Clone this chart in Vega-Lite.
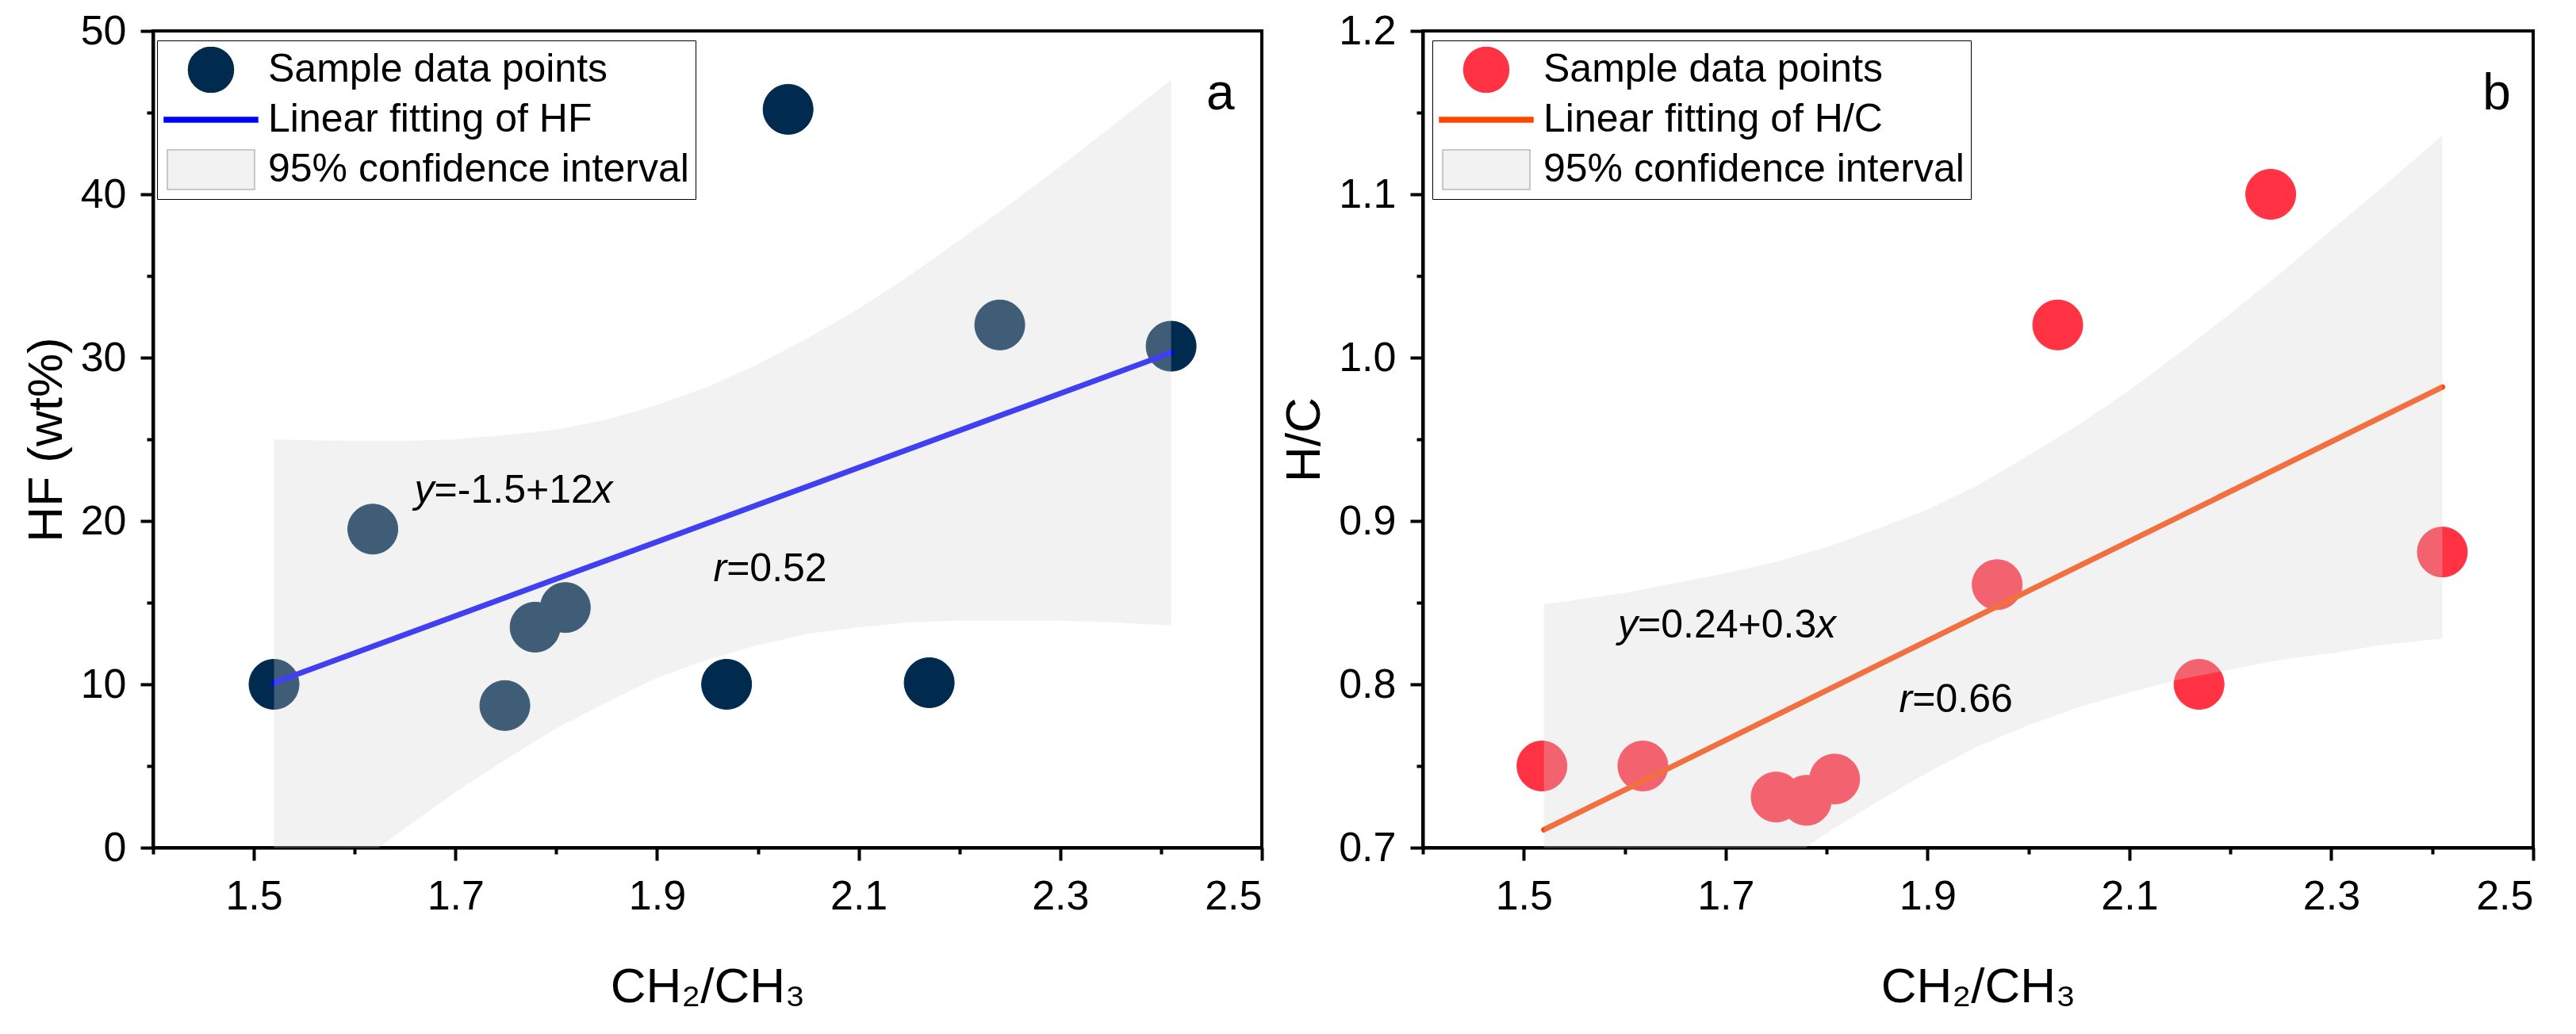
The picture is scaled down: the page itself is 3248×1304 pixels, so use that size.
{
  "$schema": "https://vega.github.io/schema/vega-lite/v6.json",
  "padding": {"left": 25, "top": 11, "right": 5, "bottom": 5},
  "background": "white",
  "datasets": {
    "ptsA": [
      {"x": 1.52, "y": 10.0, "s": "Sample data points"},
      {"x": 1.618, "y": 19.5, "s": "Sample data points"},
      {"x": 1.749, "y": 8.7, "s": "Sample data points"},
      {"x": 1.779, "y": 13.5, "s": "Sample data points"},
      {"x": 1.809, "y": 14.7, "s": "Sample data points"},
      {"x": 1.969, "y": 10.0, "s": "Sample data points"},
      {"x": 2.03, "y": 45.2, "s": "Sample data points"},
      {"x": 2.17, "y": 10.1, "s": "Sample data points"},
      {"x": 2.24, "y": 32.0, "s": "Sample data points"},
      {"x": 2.41, "y": 30.7, "s": "Sample data points"}
    ],
    "fitA": [
      {"x": 1.52, "y": 10.1},
      {"x": 2.41, "y": 30.3}
    ],
    "bandA": [
      {"x": 1.52, "y": 25.0, "lo": -4.8},
      {"x": 1.55, "y": 24.95, "lo": -3.4},
      {"x": 1.6, "y": 24.9, "lo": -1.1},
      {"x": 1.65, "y": 24.9, "lo": 1.2},
      {"x": 1.7, "y": 25.0, "lo": 3.4},
      {"x": 1.75, "y": 25.25, "lo": 5.4},
      {"x": 1.8, "y": 25.6, "lo": 7.3},
      {"x": 1.85, "y": 26.2, "lo": 8.9},
      {"x": 1.9, "y": 27.1, "lo": 10.4},
      {"x": 1.95, "y": 28.2, "lo": 11.5},
      {"x": 2.0, "y": 29.6, "lo": 12.4},
      {"x": 2.05, "y": 31.2, "lo": 13.1},
      {"x": 2.1, "y": 33.0, "lo": 13.5},
      {"x": 2.15, "y": 35.0, "lo": 13.8},
      {"x": 2.2, "y": 37.2, "lo": 13.9},
      {"x": 2.25, "y": 39.4, "lo": 13.9},
      {"x": 2.3, "y": 41.7, "lo": 13.9},
      {"x": 2.35, "y": 44.1, "lo": 13.8},
      {"x": 2.41, "y": 47.0, "lo": 13.6}
    ],
    "ptsB": [
      {"x": 1.518, "y": 0.75, "s": "Sample data points"},
      {"x": 1.618, "y": 0.75, "s": "Sample data points"},
      {"x": 1.75, "y": 0.731, "s": "Sample data points"},
      {"x": 1.78, "y": 0.729, "s": "Sample data points"},
      {"x": 1.808, "y": 0.742, "s": "Sample data points"},
      {"x": 1.969, "y": 0.861, "s": "Sample data points"},
      {"x": 2.029, "y": 1.02, "s": "Sample data points"},
      {"x": 2.169, "y": 0.8, "s": "Sample data points"},
      {"x": 2.24, "y": 1.1, "s": "Sample data points"},
      {"x": 2.41, "y": 0.881, "s": "Sample data points"}
    ],
    "fitB": [
      {"x": 1.52, "y": 0.711},
      {"x": 2.41, "y": 0.982}
    ],
    "bandB": [
      {"x": 1.52, "y": 0.849, "lo": 0.573},
      {"x": 1.55, "y": 0.8515, "lo": 0.589},
      {"x": 1.6, "y": 0.856, "lo": 0.615},
      {"x": 1.65, "y": 0.862, "lo": 0.64},
      {"x": 1.7, "y": 0.868, "lo": 0.664},
      {"x": 1.75, "y": 0.875, "lo": 0.687},
      {"x": 1.8, "y": 0.884, "lo": 0.709},
      {"x": 1.85, "y": 0.895, "lo": 0.728},
      {"x": 1.9, "y": 0.907, "lo": 0.746},
      {"x": 1.95, "y": 0.922, "lo": 0.762},
      {"x": 2.0, "y": 0.94, "lo": 0.775},
      {"x": 2.05, "y": 0.959, "lo": 0.786},
      {"x": 2.1, "y": 0.98, "lo": 0.795},
      {"x": 2.15, "y": 1.003, "lo": 0.803},
      {"x": 2.2, "y": 1.027, "lo": 0.809},
      {"x": 2.25, "y": 1.052, "lo": 0.815},
      {"x": 2.3, "y": 1.078, "lo": 0.819},
      {"x": 2.35, "y": 1.104, "lo": 0.824},
      {"x": 2.41, "y": 1.136, "lo": 0.828}
    ]
  },
  "hconcat": [
    {
      "width": 1398,
      "height": 1030,
      "encoding": {
        "x": {
          "field": "x", "type": "quantitative", "title": "CH₂/CH₃",
          "scale": {"domain": [1.4, 2.5], "nice": false, "zero": false},
          "axis": {
            "values": [1.4, 1.5, 1.6, 1.7, 1.8, 1.9, 2.0, 2.1, 2.2, 2.3, 2.4, 2.5],
            "labelExpr": "indexof(['1.5','1.7','1.9','2.1','2.3','2.5'], format(datum.value, '.1f')) >= 0 ? format(datum.value, '.1f') : ''",
            "tickSize": 16,
            "tickDash": {"condition": {"test": "indexof(['1.5','1.7','1.9','2.1','2.3','2.5'], format(datum.value, '.1f')) < 0", "value": [8, 40]}, "value": [40, 0]},
            "labelPadding": 20,
            "titlePadding": 58
          }
        },
        "y": {
          "field": "y", "type": "quantitative", "title": "HF (wt%)",
          "scale": {"domain": [0, 50], "nice": false},
          "axis": {
            "values": [0, 5, 10, 15, 20, 25, 30, 35, 40, 45, 50],
            "labelExpr": "datum.value % 10 === 0 ? datum.label : ''",
            "tickSize": 16,
            "tickDash": {"condition": {"test": "datum.value % 10 !== 0", "value": [8, 40]}, "value": [40, 0]},
            "labelPadding": 18,
            "titlePadding": 11
          }
        }
      },
      "layer": [
        {
          "data": {"name": "ptsA"},
          "mark": {"type": "point", "filled": true, "opacity": 1, "size": 17004, "strokeWidth": 1},
          "encoding": {
            "fill": {
              "field": "s", "type": "nominal",
              "scale": {"domain": ["Sample data points", "Linear fitting of HF", "95% confidence interval"], "range": ["#012a4f", "#0000ff", "#f2f2f2"]},
              "legend": {
                "title": null, "orient": "none", "legendX": 5, "legendY": 12,
                "strokeColor": "black", "padding": 8, "rowPadding": 5, "clipHeight": 58,
                "labelFontSize": 50, "labelFont": "Liberation Sans", "labelColor": "black", "labelLimit": 0, "labelOffset": 12,
                "symbolSize": 13924, "symbolStrokeWidth": 1.5
              }
            },
            "stroke": {
              "field": "s", "type": "nominal",
              "scale": {"domain": ["Sample data points", "Linear fitting of HF", "95% confidence interval"], "range": ["#012a4f", "#0000ff", "#b8b8b8"]}
            },
            "shape": {
              "field": "s", "type": "nominal",
              "scale": {"domain": ["Sample data points", "Linear fitting of HF", "95% confidence interval"], "range": ["M0.483,0A0.483,0.483,0,1,1,-0.483,0A0.483,0.483,0,1,1,0.483,0Z", "M-1,-0.05H1V0.05H-1Z", "M-0.932,-0.424H0.932V0.424H-0.932Z"]}
            }
          }
        },
        {
          "data": {"name": "fitA"},
          "mark": {"type": "line", "color": "#0000ff", "strokeWidth": 7, "strokeCap": "round"}
        },
        {
          "data": {"name": "bandA"},
          "mark": {"type": "area", "color": "#d4d4d4", "opacity": 0.3, "clip": true},
          "encoding": {"y2": {"field": "lo"}}
        },
        {
          "data": {"values": [{"x": 1.679, "y": 21.1, "t": "y"}, {"x": 1.969, "y": 16.3, "t": "r"}]},
          "mark": {"type": "text", "align": "right", "baseline": "alphabetic", "fontSize": 50, "fontStyle": "italic", "font": "Liberation Sans", "color": "black"},
          "encoding": {"text": {"field": "t"}}
        },
        {
          "data": {"values": [{"x": 1.679, "y": 21.1, "t": "=-1.5+12"}, {"x": 1.969, "y": 16.3, "t": "=0.52"}]},
          "mark": {"type": "text", "align": "left", "baseline": "alphabetic", "fontSize": 50, "font": "Liberation Sans", "color": "black"},
          "encoding": {"text": {"field": "t"}}
        },
        {
          "data": {"values": [{"x": 1.679, "y": 21.1, "t": "x"}]},
          "mark": {"type": "text", "align": "left", "baseline": "alphabetic", "dx": 200, "fontSize": 50, "fontStyle": "italic", "font": "Liberation Sans", "color": "black"},
          "encoding": {"text": {"field": "t"}}
        },
        {
          "data": {"values": [{"x": 2.445, "y": 45.17, "t": "a"}]},
          "mark": {"type": "text", "align": "left", "baseline": "alphabetic", "fontSize": 64, "font": "Liberation Sans", "color": "black"},
          "encoding": {"text": {"field": "t"}}
        }
      ]
    },
    {
      "width": 1400,
      "height": 1030,
      "encoding": {
        "x": {
          "field": "x", "type": "quantitative", "title": "CH₂/CH₃",
          "scale": {"domain": [1.4, 2.5], "nice": false, "zero": false},
          "axis": {
            "values": [1.4, 1.5, 1.6, 1.7, 1.8, 1.9, 2.0, 2.1, 2.2, 2.3, 2.4, 2.5],
            "labelExpr": "indexof(['1.5','1.7','1.9','2.1','2.3','2.5'], format(datum.value, '.1f')) >= 0 ? format(datum.value, '.1f') : ''",
            "tickSize": 16,
            "tickDash": {"condition": {"test": "indexof(['1.5','1.7','1.9','2.1','2.3','2.5'], format(datum.value, '.1f')) < 0", "value": [8, 40]}, "value": [40, 0]},
            "labelPadding": 20,
            "titlePadding": 58
          }
        },
        "y": {
          "field": "y", "type": "quantitative", "title": "H/C",
          "scale": {"domain": [0.7, 1.2], "nice": false, "zero": false},
          "axis": {
            "values": [0.7, 0.75, 0.8, 0.85, 0.9, 0.95, 1.0, 1.05, 1.1, 1.15, 1.2],
            "format": ".1f",
            "labelExpr": "round(datum.value * 100) % 10 === 0 ? datum.label : ''",
            "tickSize": 16,
            "tickDash": {"condition": {"test": "round(datum.value * 100) % 10 !== 0", "value": [8, 40]}, "value": [40, 0]},
            "labelPadding": 18,
            "titlePadding": 11
          }
        }
      },
      "layer": [
        {
          "data": {"name": "ptsB"},
          "mark": {"type": "point", "filled": true, "opacity": 1, "size": 17004, "strokeWidth": 1},
          "encoding": {
            "fill": {
              "field": "s", "type": "nominal",
              "scale": {"domain": ["Sample data points", "Linear fitting of H/C", "95% confidence interval"], "range": ["#ff3344", "#ff4500", "#f2f2f2"]},
              "legend": {
                "title": null, "orient": "none", "legendX": 12, "legendY": 12,
                "strokeColor": "black", "padding": 8, "rowPadding": 5, "clipHeight": 58,
                "labelFontSize": 50, "labelFont": "Liberation Sans", "labelColor": "black", "labelLimit": 0, "labelOffset": 12,
                "symbolSize": 13924, "symbolStrokeWidth": 1.5
              }
            },
            "stroke": {
              "field": "s", "type": "nominal",
              "scale": {"domain": ["Sample data points", "Linear fitting of H/C", "95% confidence interval"], "range": ["#ff3344", "#ff4500", "#b8b8b8"]}
            },
            "shape": {
              "field": "s", "type": "nominal",
              "scale": {"domain": ["Sample data points", "Linear fitting of H/C", "95% confidence interval"], "range": ["M0.483,0A0.483,0.483,0,1,1,-0.483,0A0.483,0.483,0,1,1,0.483,0Z", "M-1,-0.05H1V0.05H-1Z", "M-0.932,-0.424H0.932V0.424H-0.932Z"]}
            }
          }
        },
        {
          "data": {"name": "fitB"},
          "mark": {"type": "line", "color": "#ff4500", "strokeWidth": 7, "strokeCap": "round"}
        },
        {
          "data": {"name": "bandB"},
          "mark": {"type": "area", "color": "#d4d4d4", "opacity": 0.3, "clip": true},
          "encoding": {"y2": {"field": "lo"}}
        },
        {
          "data": {"values": [{"x": 1.613, "y": 0.8285, "t": "y"}, {"x": 1.885, "y": 0.783, "t": "r"}]},
          "mark": {"type": "text", "align": "right", "baseline": "alphabetic", "fontSize": 50, "fontStyle": "italic", "font": "Liberation Sans", "color": "black"},
          "encoding": {"text": {"field": "t"}}
        },
        {
          "data": {"values": [{"x": 1.613, "y": 0.8285, "t": "=0.24+0.3"}, {"x": 1.885, "y": 0.783, "t": "=0.66"}]},
          "mark": {"type": "text", "align": "left", "baseline": "alphabetic", "fontSize": 50, "font": "Liberation Sans", "color": "black"},
          "encoding": {"text": {"field": "t"}}
        },
        {
          "data": {"values": [{"x": 1.613, "y": 0.8285, "t": "x"}]},
          "mark": {"type": "text", "align": "left", "baseline": "alphabetic", "dx": 225, "fontSize": 50, "fontStyle": "italic", "font": "Liberation Sans", "color": "black"},
          "encoding": {"text": {"field": "t"}}
        },
        {
          "data": {"values": [{"x": 2.45, "y": 1.1517, "t": "b"}]},
          "mark": {"type": "text", "align": "left", "baseline": "alphabetic", "fontSize": 64, "font": "Liberation Sans", "color": "black"},
          "encoding": {"text": {"field": "t"}}
        }
      ]
    }
  ],
  "resolve": {
    "scale": {"fill": "independent", "stroke": "independent", "shape": "independent"},
    "legend": {"fill": "independent", "stroke": "independent", "shape": "independent"}
  },
  "bounds": "flush",
  "spacing": 203,
  "config": {
    "font": "Liberation Sans",
    "view": {"stroke": "black", "strokeWidth": 4},
    "axis": {
      "grid": false,
      "domainColor": "black", "domainWidth": 4,
      "tickColor": "black", "tickWidth": 4,
      "labelFont": "Liberation Sans", "labelFontSize": 52, "labelColor": "black",
      "titleFont": "Liberation Sans", "titleFontSize": 62, "titleFontWeight": "normal", "titleColor": "black"
    }
  }
}
